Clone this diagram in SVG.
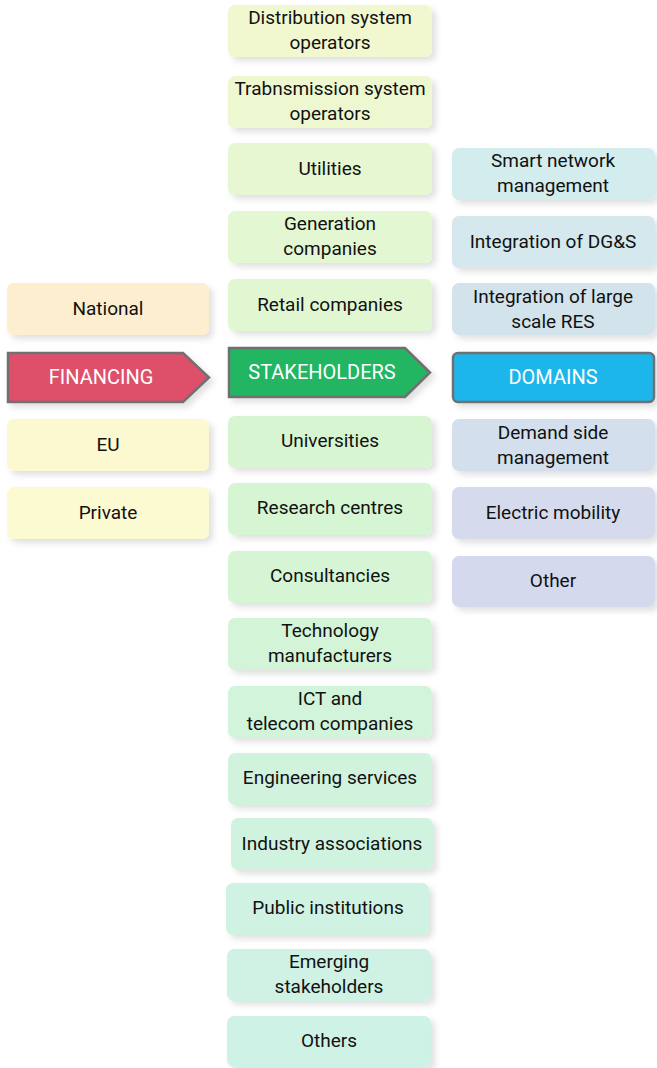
<svg xmlns="http://www.w3.org/2000/svg" width="657" height="1068" viewBox="0 0 657 1068">
<defs>
<filter id="sh" x="-10%" y="-20%" width="130%" height="150%">
<feDropShadow dx="4" dy="4" stdDeviation="3" flood-color="#000" flood-opacity="0.12"/>
</filter>
<style>
.b{filter:url(#sh);}
.t{font-family:Roboto,"Noto Sans",sans-serif;font-size:19px;fill:#111;text-anchor:middle;}
.h{font-family:Roboto,"Noto Sans",sans-serif;font-size:20px;fill:#fff;text-anchor:middle;}
.hd{stroke:#707070;stroke-width:2.5;}
</style>
</defs>
<rect width="657" height="1068" fill="#fff"/>
<g id="connectors"/>
<!-- Financing column -->
<g id="national"><rect class="b" x="7" y="283" width="202" height="52" rx="7" fill="#fdeecf"/><text class="t" x="108" y="315">National</text></g>
<g id="financing"><polygon class="hd b" points="8,353 183,353 209,377.5 183,402 8,402" fill="#de4f6a"/><text class="h" x="101" y="384">FINANCING</text></g>
<g id="eu"><rect class="b" x="7" y="419" width="202" height="52" rx="7" fill="#fcf8cf"/><text class="t" x="108" y="451">EU</text></g>
<g id="private"><rect class="b" x="7" y="487" width="202" height="52" rx="7" fill="#fcfad0"/><text class="t" x="108" y="519">Private</text></g>
<!-- Stakeholders column -->
<g id="dso"><rect class="b" x="228" y="5" width="204" height="52" rx="7" fill="#f1f8d0"/><text class="t" x="330" y="24">Distribution system</text><text class="t" x="330" y="49">operators</text></g>
<g id="tso"><rect class="b" x="228" y="76" width="204" height="52" rx="7" fill="#eef8d0"/><text class="t" x="330" y="95">Trabnsmission system</text><text class="t" x="330" y="120">operators</text></g>
<g id="utilities"><rect class="b" x="228" y="143" width="204" height="52" rx="7" fill="#e6f7d2"/><text class="t" x="330" y="175">Utilities</text></g>
<g id="generation"><rect class="b" x="228" y="211" width="204" height="52" rx="7" fill="#e3f7d2"/><text class="t" x="330" y="230">Generation</text><text class="t" x="330" y="255">companies</text></g>
<g id="retail"><rect class="b" x="228" y="279" width="204" height="52" rx="7" fill="#e0f7d2"/><text class="t" x="330" y="311">Retail companies</text></g>
<g id="stakeholders"><polygon class="hd b" points="229,348 405,348 430,372.5 405,397 229,397" fill="#20b562"/><text class="h" x="322" y="379">STAKEHOLDERS</text></g>
<g id="universities"><rect class="b" x="228" y="416" width="204" height="52" rx="7" fill="#d8f5d1"/><text class="t" x="330" y="447">Universities</text></g>
<g id="research"><rect class="b" x="228" y="483" width="204" height="52" rx="7" fill="#d6f5d2"/><text class="t" x="330" y="514">Research centres</text></g>
<g id="consultancies"><rect class="b" x="228" y="551" width="204" height="52" rx="7" fill="#d5f5d4"/><text class="t" x="330" y="582">Consultancies</text></g>
<g id="technology"><rect class="b" x="228" y="618" width="204" height="52" rx="7" fill="#d3f4d7"/><text class="t" x="330" y="637">Technology</text><text class="t" x="330" y="662">manufacturers</text></g>
<g id="ict"><rect class="b" x="228" y="686" width="204" height="52" rx="7" fill="#d2f4da"/><text class="t" x="330" y="705">ICT and</text><text class="t" x="330" y="730">telecom companies</text></g>
<g id="engineering"><rect class="b" x="228" y="753" width="204" height="52" rx="7" fill="#d1f3dd"/><text class="t" x="330" y="784">Engineering services</text></g>
<g id="industry"><rect class="b" x="231" y="818" width="202" height="52" rx="7" fill="#d0f3e0"/><text class="t" x="332" y="850">Industry associations</text></g>
<g id="public"><rect class="b" x="226" y="883" width="203" height="52" rx="7" fill="#cff2e2"/><text class="t" x="328" y="914">Public institutions</text></g>
<g id="emerging"><rect class="b" x="227" y="949" width="204" height="52" rx="7" fill="#cff2e4"/><text class="t" x="329" y="968">Emerging</text><text class="t" x="329" y="993">stakeholders</text></g>
<g id="others"><rect class="b" x="227" y="1016" width="204" height="51" rx="7" fill="#cef2e5"/><text class="t" x="329" y="1047">Others</text></g>
<!-- Domains column -->
<g id="smart"><rect class="b" x="452" y="148" width="203" height="52" rx="7" fill="#d3ecee"/><text class="t" x="553" y="167">Smart network</text><text class="t" x="553" y="192">management</text></g>
<g id="dgs"><rect class="b" x="452" y="216" width="203" height="52" rx="7" fill="#d4e8ed"/><text class="t" x="553" y="248">Integration of DG&amp;S</text></g>
<g id="res"><rect class="b" x="452" y="283" width="203" height="52" rx="7" fill="#d3e3eb"/><text class="t" x="553" y="303">Integration of large</text><text class="t" x="553" y="328">scale RES</text></g>
<g id="domains"><rect class="hd b" x="453" y="353" width="201" height="49" rx="5" fill="#1bb6eb"/><text class="h" x="553" y="384">DOMAINS</text></g>
<g id="demand"><rect class="b" x="452" y="419" width="203" height="52" rx="7" fill="#d3dfec"/><text class="t" x="553" y="439">Demand side</text><text class="t" x="553" y="464">management</text></g>
<g id="mobility"><rect class="b" x="452" y="487" width="203" height="52" rx="7" fill="#d5dbed"/><text class="t" x="553" y="519">Electric mobility</text></g>
<g id="other"><rect class="b" x="452" y="556" width="203" height="51" rx="7" fill="#d5d9ee"/><text class="t" x="553" y="587">Other</text></g>
</svg>
